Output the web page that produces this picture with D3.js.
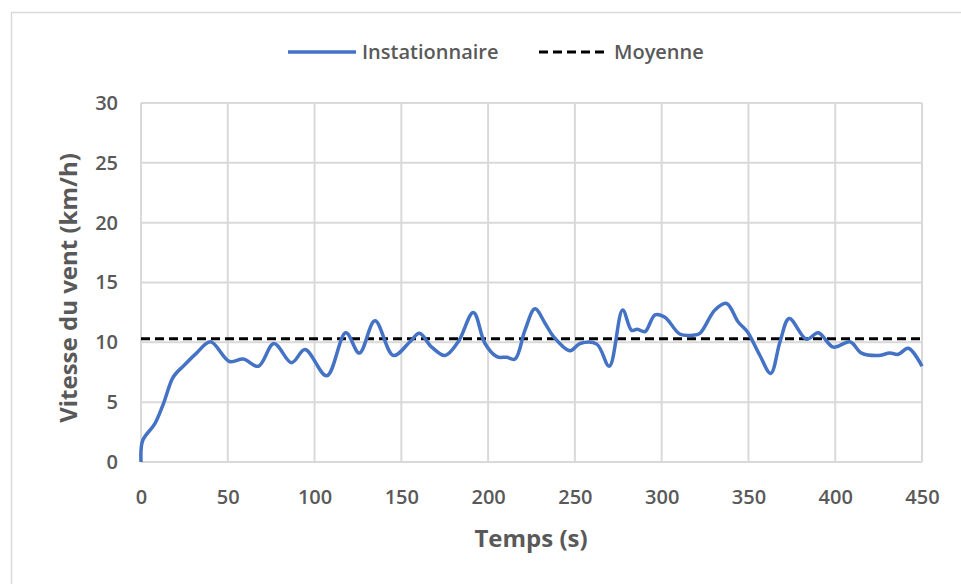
<!DOCTYPE html>
<html>
<head>
<meta charset="utf-8">
<script src="https://cdn.jsdelivr.net/npm/d3@7"></script>
<style>
  body { margin: 0; background: #fff; }
  text { font-family: "Open Sans", sans-serif; fill: #595959; }
</style>
</head>
<body>
<script>
// wind speed over time
var times  = [0, 1, 8, 13, 18.6, 25, 32, 40, 51, 59, 67.6, 76.6, 86.8, 94.5, 107, 118, 125.8, 134.8, 145.4, 155, 160.4, 167.5, 175.2, 182.8, 191.5, 198.2, 205, 210.7, 215.5, 221.2, 227, 232.8, 237.6, 247.2, 253, 262.6, 269.8, 277.5, 282.7, 286, 290.4, 296.2, 301.9, 310.4, 318.2, 322, 330.7, 337.4, 344.1, 349.3, 356.6, 362.8, 368.2, 373.5, 383.5, 390.2, 398.9, 408.5, 415.2, 424.8, 431.5, 436.3, 442.1, 450];
var speeds = [0, 1.8, 3.2, 4.9, 7.1, 8.1, 9.1, 10.05, 8.4, 8.6, 8.0, 9.9, 8.3, 9.4, 7.2, 10.8, 9.1, 11.8, 8.9, 10.05, 10.75, 9.6, 8.9, 10.05, 12.5, 9.9, 8.8, 8.75, 8.6, 11.0, 12.8, 11.6, 10.5, 9.3, 9.9, 9.85, 8.0, 12.7, 11.0, 11.1, 10.9, 12.3, 12.1, 10.7, 10.6, 10.75, 12.7, 13.25, 11.7, 10.9, 8.9, 7.4, 10.05, 12.0, 10.25, 10.8, 9.6, 10.05, 9.1, 8.9, 9.1, 9.0, 9.5, 8.0];
var meanSpeed = 10.3;
var xTicks = [0, 50, 100, 150, 200, 250, 300, 350, 400, 450];
var yTicks = [0, 5, 10, 15, 20, 25, 30];

var W = 961, H = 584;
var svg = d3.select("body").append("svg").attr("width", W).attr("height", H);

// chart border
svg.append("rect").attr("x", 11.5).attr("y", 12.5).attr("width", 1000).attr("height", 700)
  .attr("fill", "#fff").attr("stroke", "#d9d9d9").attr("stroke-width", 1.5);

var x = d3.scaleLinear().domain([0, 450]).range([141, 922]);
var y = d3.scaleLinear().domain([0, 30]).range([462, 103]);

// grid
svg.append("g").selectAll("line.h").data(yTicks).enter().append("line")
  .attr("x1", x(0)).attr("x2", x(450))
  .attr("y1", function(d){ return y(d); }).attr("y2", function(d){ return y(d); })
  .attr("stroke", "#d9d9d9").attr("stroke-width", 2);
svg.append("g").selectAll("line.v").data(xTicks).enter().append("line")
  .attr("y1", y(0)).attr("y2", y(30))
  .attr("x1", function(d){ return x(d); }).attr("x2", function(d){ return x(d); })
  .attr("stroke", "#d9d9d9").attr("stroke-width", 2);

// axes labels (no domain, no ticks)
var xAxis = svg.append("g").attr("transform", "translate(0," + y(0) + ")")
  .call(d3.axisBottom(x).tickValues(xTicks).tickSize(0).tickPadding(28));
var yAxis = svg.append("g").attr("transform", "translate(" + x(0) + ",0)")
  .call(d3.axisLeft(y).tickValues(yTicks).tickSize(0).tickPadding(23));
[xAxis, yAxis].forEach(function(g){
  g.select(".domain").remove();
  g.selectAll("text").style("font-family", "Open Sans, sans-serif")
    .style("font-size", "20px").style("font-weight", "600").attr("fill", "#595959");
});

// mean line
svg.append("line").attr("x1", x(0)).attr("x2", x(450))
  .attr("y1", y(meanSpeed)).attr("y2", y(meanSpeed))
  .attr("stroke", "#000").attr("stroke-width", 3).attr("stroke-dasharray", "9,5");

// series
var pts = times.map(function(t, i){ return [t, speeds[i]]; });
var line = d3.line().x(function(d){ return x(d[0]); }).y(function(d){ return y(d[1]); })
  .curve(d3.curveCatmullRom.alpha(0.5));
svg.append("path").datum(pts).attr("d", line)
  .attr("fill", "none").attr("stroke", "#4472c4").attr("stroke-width", 3.5)
  .attr("stroke-linejoin", "round");

// axis titles
svg.append("text").attr("x", 531).attr("y", 547).attr("text-anchor", "middle")
  .style("font-size", "24px").style("font-weight", "700").text("Temps (s)");
svg.append("text").attr("transform", "translate(77,288) rotate(-90)").attr("text-anchor", "middle")
  .style("font-size", "24px").style("font-weight", "700").text("Vitesse du vent (km/h)");

// legend
var leg = svg.append("g");
leg.append("line").attr("x1", 288).attr("x2", 356).attr("y1", 52).attr("y2", 52)
  .attr("stroke", "#4472c4").attr("stroke-width", 3.5);
leg.append("text").attr("x", 362).attr("y", 59).style("font-size", "20px").style("font-weight", "600")
  .text("Instationnaire");
leg.append("line").attr("x1", 539).attr("x2", 606).attr("y1", 52).attr("y2", 52)
  .attr("stroke", "#000").attr("stroke-width", 3).attr("stroke-dasharray", "9,5");
leg.append("text").attr("x", 614).attr("y", 59).style("font-size", "20px").style("font-weight", "600")
  .text("Moyenne");
</script>
</body>
</html>
